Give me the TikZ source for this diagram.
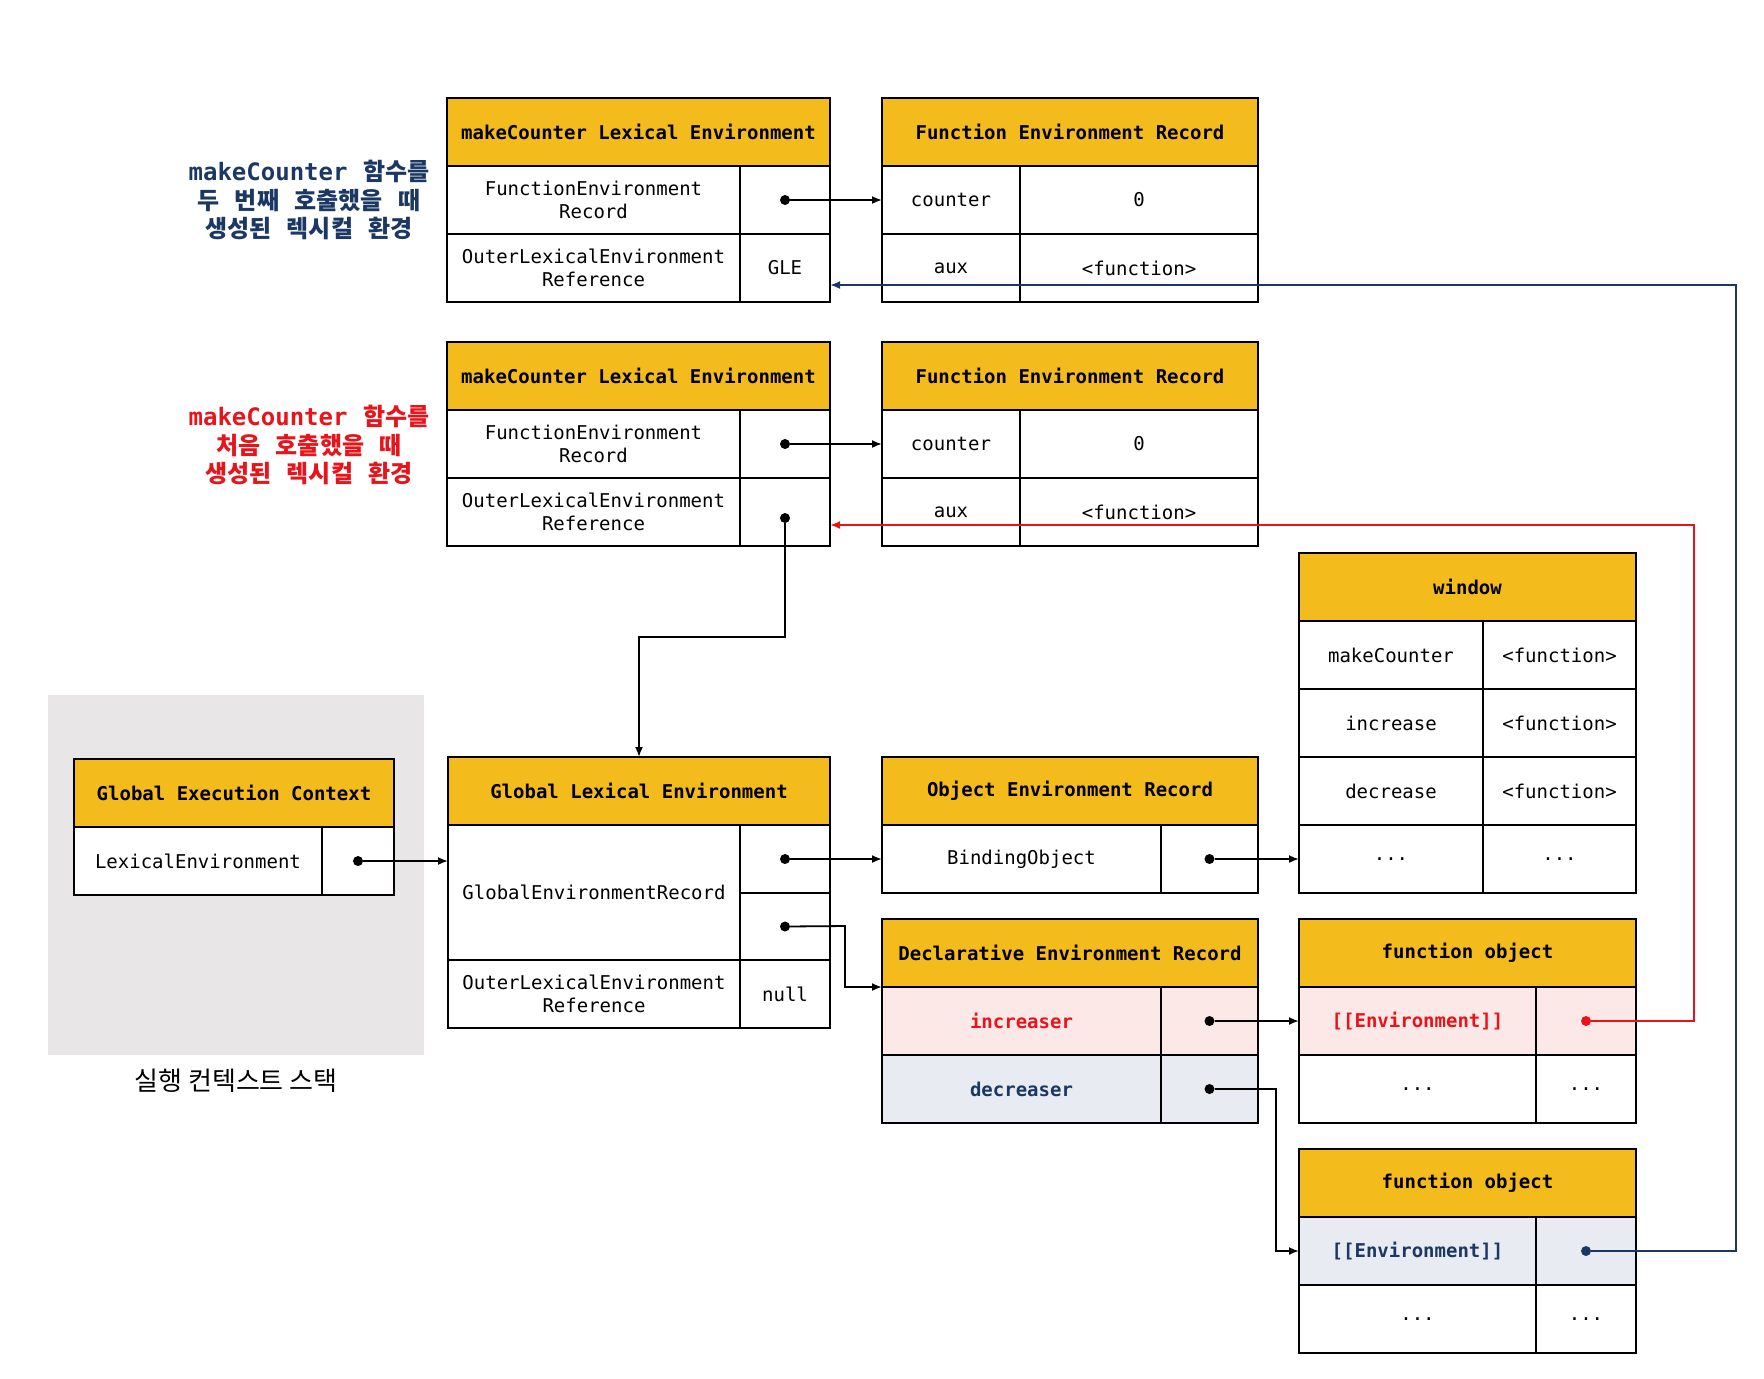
\documentclass[tikz,border=0pt]{standalone}
\usepackage{fontspec}
\setmonofont{DejaVu Sans Mono}
\newfontfamily\krfont{Noto Sans CJK KR}
\usepackage{tikz}
\usetikzlibrary{arrows.meta,positioning,calc}
\definecolor{myyellow}{RGB}{243,187,27}
\definecolor{mynavy}{RGB}{27,55,100}
\definecolor{myred}{RGB}{232,20,28}
\definecolor{mypink}{RGB}{253,232,232}
\definecolor{mysky}{RGB}{232,236,242}
\definecolor{mygray}{RGB}{232,230,231}
\newcommand{\elide}{...}
\newcommand{\widesp}{\spaceskip 0.65em\relax}

\begin{document}
\begin{tikzpicture}[x=0.5pt,y=-0.5pt,
  every node/.style={inner sep=0pt,outer sep=0pt},
  cell/.style 2 args={draw,fill=white,line width=0.8pt,anchor=north west,align=center,
    minimum width=#1*0.5pt,minimum height=#2*0.5pt,
    font=\ttfamily\fontsize{9.5}{11.8}\selectfont},
  head/.style 2 args={cell={#1}{#2},fill=myyellow,
    font=\ttfamily\bfseries\fontsize{9.5}{11.8}\selectfont},
  callnote/.style={align=center,
    font=\krfont\bfseries\fontsize{12}{14.4}\selectfont\widesp},
  dot/.style={circle,fill,minimum size=5pt},
  link/.style={line width=0.9pt,-{Latex[length=5pt,width=4pt]}}]
  \useasboundingbox (0,0) rectangle (1764,1378);

  % execution context stack
  \node[fill=mygray,anchor=north west,minimum width=376*0.5pt,
        minimum height=360*0.5pt] (stack) at (48,695) {};
  \node[below=7pt of stack,font=\krfont\fontsize{13}{15}\selectfont]
    (stacklbl) {실행 컨텍스트 스택};
  \node[head={320}{68}] (gech) at (74,759) {Global Execution Context};
  \node[cell={248}{68}] (geck1) at (74,827) {LexicalEnvironment};
  \node[cell={72}{68}] (gecv1) at (322,827) {};

  % makeCounter, second call
  \node[callnote,text=mynavy] (lbl2) at (309,200)
    {{\ttfamily makeCounter} 함수를\\두 번째 호출했을 때\\생성된 렉시컬 환경};
  \node[head={383}{68}] (mc2h) at (447,98) {makeCounter Lexical Environment};
  \foreach \k/\v [count=\i] in {{FunctionEnvironment\\Record}/{},
                                {OuterLexicalEnvironment\\Reference}/GLE}{
    \node[cell={293}{68}] (mc2k\i) at (447,{166+68*(\i-1)}) {\k};
    \node[cell={90}{68}] (mc2v\i) at (740,{166+68*(\i-1)}) {\v};
  }
  \node[head={376}{68}] (fer2h) at (882,98) {Function Environment Record};
  \foreach \k/\v [count=\i] in {counter/0,aux/{<function>}}{
    \node[cell={138}{68}] (fer2k\i) at (882,{166+68*(\i-1)}) {\k};
    \node[cell={238}{68}] (fer2v\i) at (1020,{166+68*(\i-1)}) {\v};
  }

  % makeCounter, first call
  \node[callnote,text=myred] (lbl1) at (309,445)
    {{\ttfamily makeCounter} 함수를\\처음 호출했을 때\\생성된 렉시컬 환경};
  \node[head={383}{68}] (mc1h) at (447,342) {makeCounter Lexical Environment};
  \foreach \k [count=\i] in {{FunctionEnvironment\\Record},
                             {OuterLexicalEnvironment\\Reference}}{
    \node[cell={293}{68}] (mc1k\i) at (447,{410+68*(\i-1)}) {\k};
    \node[cell={90}{68}] (mc1v\i) at (740,{410+68*(\i-1)}) {};
  }
  \node[head={376}{68}] (fer1h) at (882,342) {Function Environment Record};
  \foreach \k/\v [count=\i] in {counter/0,aux/{<function>}}{
    \node[cell={138}{68}] (fer1k\i) at (882,{410+68*(\i-1)}) {\k};
    \node[cell={238}{68}] (fer1v\i) at (1020,{410+68*(\i-1)}) {\v};
  }

  % global lexical environment
  \node[head={382}{68}] (gleh) at (448,757) {Global Lexical Environment};
  \node[cell={292}{135}] (glek1) at (448,825) {GlobalEnvironmentRecord};
  \node[cell={90}{68}] (glev1) at (740,825) {};
  \node[cell={90}{67}] (glev2) at (740,893) {};
  \node[cell={292}{68}] (glek2) at (448,960) {OuterLexicalEnvironment\\Reference};
  \node[cell={90}{68}] (glev3) at (740,960) {null};

  % object / declarative records
  \node[head={376}{68}] (oerh) at (882,757) {Object Environment Record};
  \node[cell={279}{68}] (oerk1) at (882,825) {BindingObject};
  \node[cell={97}{68}] (oerv1) at (1161,825) {};
  \node[head={376}{68}] (derh) at (882,919) {Declarative Environment Record};
  \node[cell={279}{68},fill=mypink,text=myred,font=\ttfamily\bfseries\fontsize{9.5}{11.8}\selectfont]
    (derk1) at (882,987) {increaser};
  \node[cell={97}{68},fill=mypink] (derv1) at (1161,987) {};
  \node[cell={279}{68},fill=mysky,text=mynavy,font=\ttfamily\bfseries\fontsize{9.5}{11.8}\selectfont]
    (derk2) at (882,1055) {decreaser};
  \node[cell={97}{68},fill=mysky] (derv2) at (1161,1055) {};

  % window
  \node[head={337}{68}] (winh) at (1299,553) {window};
  \foreach \k/\v [count=\i] in {makeCounter/{<function>},increase/{<function>},
                                decrease/{<function>},\elide/\elide}{
    \node[cell={184}{68}] (wink\i) at (1299,{621+68*(\i-1)}) {\k};
    \node[cell={153}{68}] (winv\i) at (1483,{621+68*(\i-1)}) {\v};
  }

  % function objects
  \node[head={337}{68}] (fo1h) at (1299,919) {function object};
  \node[cell={237}{68},fill=mypink,text=myred,font=\ttfamily\bfseries\fontsize{9.5}{11.8}\selectfont]
    (fo1k1) at (1299,987) {[[Environment]]};
  \node[cell={100}{68},fill=mypink] (fo1v1) at (1536,987) {};
  \node[cell={237}{68}] (fo1k2) at (1299,1055) {\elide};
  \node[cell={100}{68}] (fo1v2) at (1536,1055) {\elide};
  \node[head={337}{68}] (fo2h) at (1299,1149) {function object};
  \node[cell={237}{68},fill=mysky,text=mynavy,font=\ttfamily\bfseries\fontsize{9.5}{11.8}\selectfont]
    (fo2k1) at (1299,1217) {[[Environment]]};
  \node[cell={100}{68},fill=mysky] (fo2v1) at (1536,1217) {};
  \node[cell={237}{68}] (fo2k2) at (1299,1285) {\elide};
  \node[cell={100}{68}] (fo2v2) at (1536,1285) {\elide};

  % dots
  \node[dot] (mc2d1) at (mc2v1) {};
  \node[dot] (mc1d1) at (mc1v1) {};
  \node[dot] (mc1d2) at ([yshift=-3pt]mc1v2.center) {};
  \node[dot] (gecd) at (gecv1) {};
  \node[dot] (gled1) at (glev1) {};
  \node[dot] (gled2) at (glev2) {};
  \node[dot] (oerd) at (oerv1) {};
  \node[dot] (derd1) at (derv1) {};
  \node[dot] (derd2) at (derv2) {};
  \node[dot,myred] (fo1d) at (fo1v1) {};
  \node[dot,mynavy] (fo2d) at (fo2v1) {};

  % links
  \draw[link] (mc2d1) -- (mc2d1 -| fer2k1.west);
  \draw[link] (mc1d1) -- (mc1d1 -| fer1k1.west);
  \coordinate (bend1) at (785,637);
  \draw[link] (mc1d2) -- (bend1) -| (gleh.north);
  \draw[link] (gecd) -- (gecd -| glek1.west);
  \draw[link] (gled1) -- (gled1 -| oerk1.west);
  \coordinate (bend2) at (845,926);
  \draw[link] (gled2) -- (bend2) |- (derh.south west);
  \draw[link] (oerd) -- (oerd -| wink4.west);
  \draw[link] (derd1) -- (derd1 -| fo1k1.west);
  \coordinate (bend3) at (1276,1089);
  \draw[link] (derd2) -- (bend3) |- (fo2k1.west);
  \coordinate (redtop) at (1694,525);
  \draw[link,myred] (fo1d) -| (redtop) -- (redtop -| mc1v2.east);
  \coordinate (navytop) at (1736,285);
  \draw[link,mynavy] (fo2d) -| (navytop) -- (navytop -| mc2v2.east);
\end{tikzpicture}
\end{document}
